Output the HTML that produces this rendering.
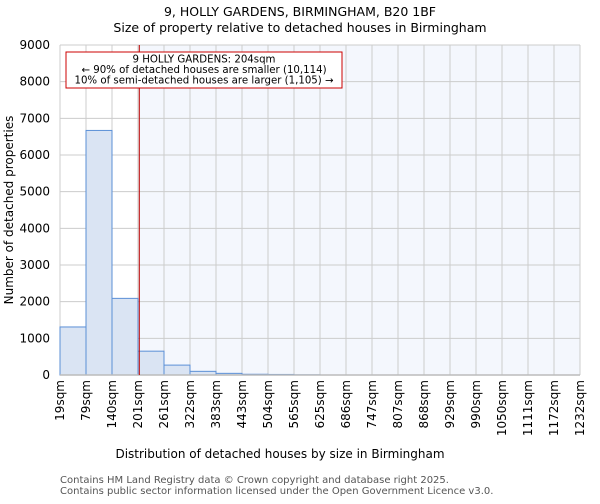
<!DOCTYPE html>
<html><head><meta charset="utf-8"><style>
body{margin:0;background:#fff;font-family:"DejaVu Sans","Liberation Sans",sans-serif}
</style></head><body>
<svg width="600" height="500" xmlns="http://www.w3.org/2000/svg" font-family="DejaVu Sans, Liberation Sans, sans-serif">
<text x="300" y="16" text-anchor="middle" font-size="12.5">9, HOLLY GARDENS, BIRMINGHAM, B20 1BF</text>
<text x="300" y="32" text-anchor="middle" font-size="12.5">Size of property relative to detached houses in Birmingham</text>
<g id="plot"></g>
<text transform="translate(13,210) rotate(-90)" text-anchor="middle" font-size="12">Number of detached properties</text>
<text x="280" y="458" text-anchor="middle" font-size="12">Distribution of detached houses by size in Birmingham</text>
<text x="60" y="483" font-size="10" fill="#555">Contains HM Land Registry data © Crown copyright and database right 2025.</text>
<text x="60" y="494" font-size="10" fill="#555">Contains public sector information licensed under the Open Government Licence v3.0.</text>
</svg>
<script>
const binLabels=["19sqm","79sqm","140sqm","201sqm","261sqm","322sqm","383sqm","443sqm","504sqm","565sqm","625sqm","686sqm","747sqm","807sqm","868sqm","929sqm","990sqm","1050sqm","1111sqm","1172sqm","1232sqm"];
const binEdges=[19,79,140,201,261,322,383,443,504,565,625,686,747,807,868,929,990,1050,1111,1172,1232];
const counts=[1310,6670,2090,650,270,100,45,20,15,5,0,0,0,0,0,0,0,0,0,0];
const yTicks=[0,1000,2000,3000,4000,5000,6000,7000,8000,9000];
const propertySize=204;
const X0=60,X1=580,Y0=375,Y1=45,YMAX=9000;
const nb=counts.length;
function xi(i){return X0+(X1-X0)*i/nb;}
function xv(v){for(let i=0;i<nb;i++){if(v<=binEdges[i+1]){return xi(i)+(v-binEdges[i])/(binEdges[i+1]-binEdges[i])*(X1-X0)/nb;}}return X1;}
function y(v){return Y0-(Y0-Y1)*v/YMAX;}
const g=document.getElementById('plot');const NS="http://www.w3.org/2000/svg";
function mk(t,a,p){const e=document.createElementNS(NS,t);for(const k in a)e.setAttribute(k,a[k]);(p||g).appendChild(e);return e;}
const px=xv(propertySize);
const sh=mk('rect',{x:px,y:Y1,width:X1-px,height:Y0-Y1,fill:'#f4f7fd'});


yTicks.forEach(t=>{const l=mk('line',{x1:X0,x2:X1,y1:y(t),y2:y(t),stroke:'#ccc'});


const tx=mk('text',{x:X0-10,y:y(t)+4,'text-anchor':'end','font-size':'12'});tx.textContent=t;

});
binLabels.forEach((lb,i)=>{const l=mk('line',{x1:xi(i),x2:xi(i),y1:Y1,y2:Y0,stroke:'#ccc'});


const tx=mk('text',{transform:`translate(${xi(i)+4},380) rotate(-90)`,'text-anchor':'end','font-size':'12'});tx.textContent=lb;

});
counts.forEach((c,i)=>{if(c<=0)return;const r=mk('rect',{x:xi(i),y:y(c),width:(X1-X0)/nb,height:Y0-y(c),fill:'#dae4f3',stroke:'#5b8fd6','stroke-width':1});

});
const ax=mk('line',{x1:X0,x2:X1,y1:Y0,y2:Y0,stroke:'#bbb','stroke-width':1.5});


const rl=mk('line',{x1:px,x2:px,y1:Y1,y2:Y0,stroke:'#b00','stroke-width':1});


const box=mk('rect',{x:66,y:52,width:276,height:36,fill:'#fff',stroke:'#c00','stroke-width':1});


["9 HOLLY GARDENS: 204sqm","← 90% of detached houses are smaller (10,114)","10% of semi-detached houses are larger (1,105) →"].forEach((s,k)=>{const t=mk('text',{x:204,y:62.5+k*10.5,'text-anchor':'middle','font-size':'10.2'});t.textContent=s;

});
</script>
</body></html>
